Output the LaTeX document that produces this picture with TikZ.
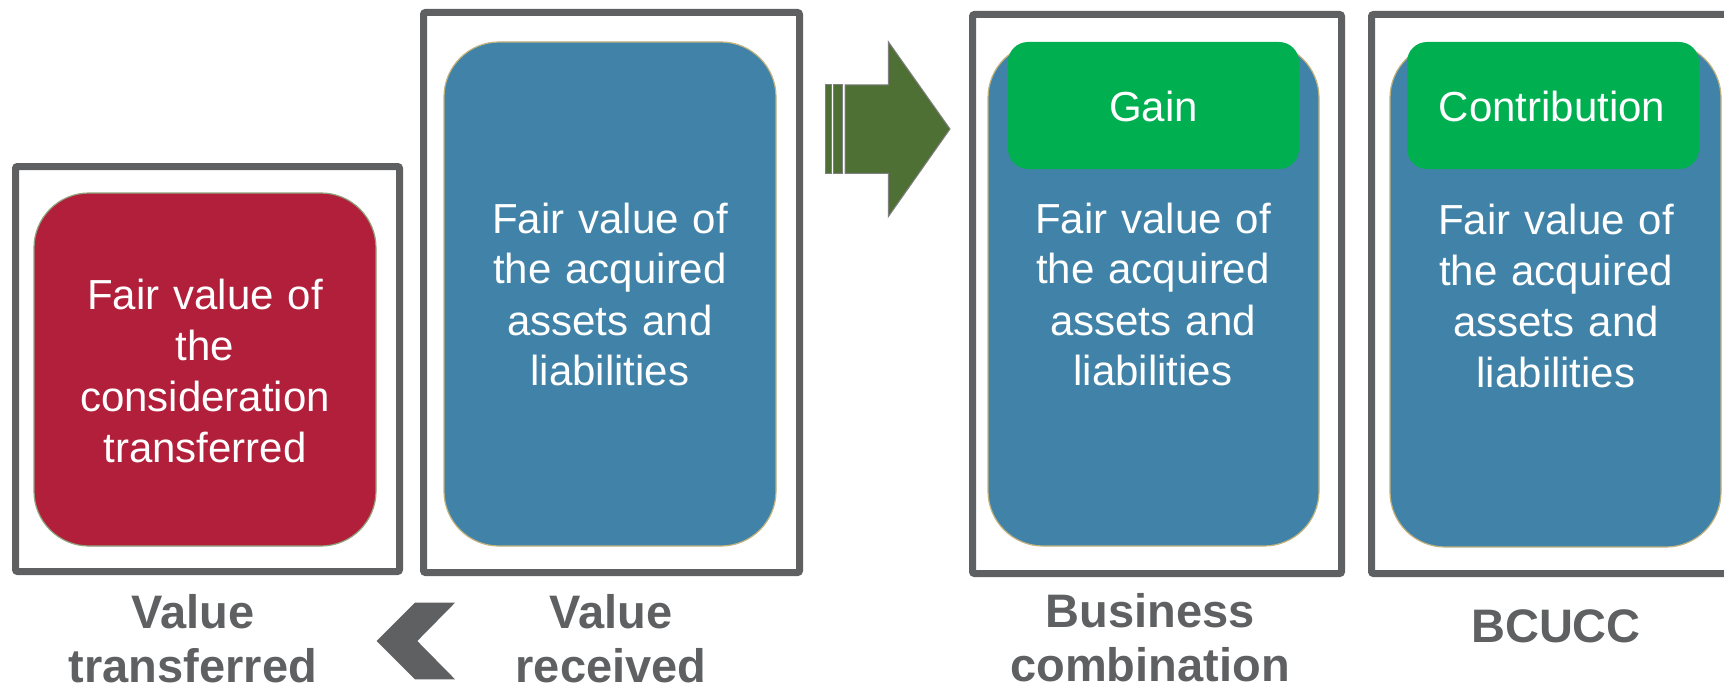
\documentclass[tikz,border=0pt]{standalone}
\usepackage{fontspec}
\setmainfont{Liberation Sans}
\definecolor{frameGray}{HTML}{5F6062}
\definecolor{boxRed}{HTML}{B21F3A}
\definecolor{redEdge}{HTML}{8FA27C}
\definecolor{boxBlue}{HTML}{4183A8}
\definecolor{blueEdge}{HTML}{C2B27C}
\definecolor{boxGreen}{HTML}{00AF50}
\definecolor{arrowGreen}{HTML}{4E7034}
\definecolor{arrowEdge}{HTML}{7F7F80}
\tikzset{
  frame/.style={draw=frameGray, line width=7pt, rounded corners=2pt, inner sep=0pt, outer sep=0pt},
  redbox/.style={fill=boxRed, draw=redEdge, line width=1.2pt, rounded corners=55pt, inner sep=0pt},
  bluebox/.style={fill=boxBlue, draw=blueEdge, line width=1.2pt, rounded corners=55pt, inner sep=0pt},
  greenbox/.style={fill=boxGreen, rounded corners=20pt, inner sep=0pt},
  boxtext/.style={text=white, font=\fontsize{42}{51}\selectfont, align=center, text width=340pt, inner sep=0pt, anchor=base},
  capt/.style={text=frameGray, font=\bfseries\fontsize{47}{54}\selectfont, align=center, text width=380pt, inner sep=0pt, anchor=base},
  arrowpart/.style={fill=arrowGreen, draw=arrowEdge, line width=1pt, line join=miter}
}
\begin{document}
\begin{tikzpicture}[x=1pt,y=-1pt]
\useasboundingbox (0,0) rectangle (1724,690);
\clip (0,0) rectangle (1724,690);
% frames
\node[frame, minimum width=384pt, minimum height=405pt] (f1) at (207.5,369) {};
\node[frame, minimum width=376pt, minimum height=560pt] (f2) at (611.5,292.5) {};
\node[frame, minimum width=369pt, minimum height=559pt] (f3) at (1157,294) {};
\node[frame, minimum width=388.5pt, minimum height=559pt] (f4) at (1565.75,294) {};
% inner boxes
\node[redbox, minimum width=342pt, minimum height=353pt] (r1) at (205,369.5) {};
\node[bluebox, minimum width=332pt, minimum height=504pt] (b2) at (610,294) {};
\node[bluebox, minimum width=331pt, minimum height=503pt] (b3) at (1153.5,294.5) {};
\node[bluebox, minimum width=331pt, minimum height=504pt] (b4) at (1555.5,295) {};
\node[greenbox, minimum width=291pt, minimum height=127pt] (g3) at (1153.5,105.5) {};
\node[greenbox, minimum width=292pt, minimum height=127pt] (g4) at (1553,105.5) {};
% texts in boxes
\node[boxtext] (t1) at (205,309) {Fair value of\\the\\consideration\\transferred};
\node[boxtext] (t2) at (610,233) {Fair value of\\the acquired\\assets and\\liabilities};
\node[boxtext] (t3) at (1153,233) {Fair value of\\the acquired\\assets and\\liabilities};
\node[boxtext] (t4) at (1556,234) {Fair value of\\the acquired\\assets and\\liabilities};
\node[boxtext] (gt3) at (1153.5,122) {Gain};
\node[boxtext] (gt4) at (1552,122) {Contribution};
% captions
\node[capt] (c1) at (193,628) {Value\\transferred};
\node[capt] (c2) at (611,628) {Value\\received};
\node[capt] (c3) at (1150,627) {Business\\combination};
\node[capt] (c4) at (1556,642) {BCUCC};
% striped arrow
\path[arrowpart] (825.7,85) rectangle (831,173.3);
\path[arrowpart] (833.3,85) rectangle (842.3,173.3);
\path[arrowpart] (845,85) -- (888.3,85) -- (888.3,41.7) -- (950,129) -- (888.3,216.7) -- (888.3,173.3) -- (845,173.3) -- cycle;
% chevron
\fill[frameGray] (455,602.7) -- (415,602.7) -- (376.7,641) -- (415,679.3) -- (455,679.3) -- (417.3,641) -- cycle;
\end{tikzpicture}
\end{document}
